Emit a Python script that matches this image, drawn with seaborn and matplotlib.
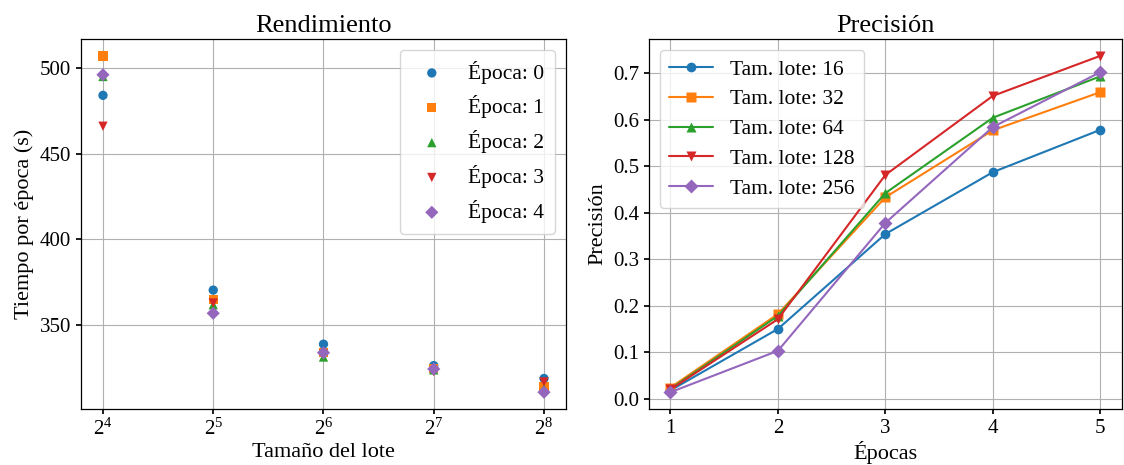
import numpy as np
import pandas as pd
import matplotlib
matplotlib.use("Agg")
import matplotlib.pyplot as plt
import seaborn as sns

# ---- data ----
batch_sizes = [16, 32, 64, 128, 256]
epoch_labels = ["Época: 0", "Época: 1", "Época: 2", "Época: 3", "Época: 4"]
time_ep0 = [484, 370.5, 339, 326.5, 319]
time_ep1 = [507, 365, 334, 325, 314]
time_ep2 = [495, 362, 331.5, 324, 313]
time_ep3 = [466, 363, 333, 323, 317]
time_ep4 = [496, 357, 334, 324.5, 311]

epochs = [1, 2, 3, 4, 5]
lote_labels = ["Tam. lote: 16", "Tam. lote: 32", "Tam. lote: 64", "Tam. lote: 128", "Tam. lote: 256"]
acc_16 = [0.018, 0.150, 0.354, 0.487, 0.578]
acc_32 = [0.024, 0.182, 0.433, 0.577, 0.659]
acc_64 = [0.021, 0.178, 0.442, 0.604, 0.693]
acc_128 = [0.020, 0.171, 0.481, 0.651, 0.737]
acc_256 = [0.014, 0.103, 0.378, 0.584, 0.702]

sns.set_theme(style="whitegrid")
plt.rcParams.update({
    "font.family": ["Liberation Serif", "DejaVu Serif"],
    "mathtext.fontset": "stix",
    "axes.edgecolor": "black",
    "axes.linewidth": 0.9,
    "grid.color": "#b0b0b0",
    "grid.linewidth": 0.8,
    "xtick.bottom": True,
    "ytick.left": True,
    "xtick.color": "black",
    "ytick.color": "black",
    "xtick.major.size": 3.5,
    "ytick.major.size": 3.5,
    "axes.labelcolor": "black",
    "text.color": "black",
})

palette = sns.color_palette("tab10")
markers = ["o", "s", "^", "v", "D"]

fig = plt.figure(figsize=(11.24, 4.65), dpi=100)
ax1 = fig.add_axes([0.072, 0.1204, 0.4316, 0.7956])
ax2 = fig.add_axes([0.5774, 0.1204, 0.4206, 0.7956])

times = [time_ep0, time_ep1, time_ep2, time_ep3, time_ep4]
for i, (lab, t) in enumerate(zip(epoch_labels, times)):
    sns.scatterplot(x=batch_sizes, y=t, ax=ax1, color=palette[i], marker=markers[i],
                    s=45, edgecolor="none", label=lab, zorder=3)
ax1.set_xscale("log", base=2)
ax1.set_xticks(batch_sizes)
ax1.set_yticks([350, 400, 450, 500])
ax1.set_title("Rendimiento", fontsize=19, pad=5)
ax1.set_xlabel("Tamaño del lote", fontsize=16, labelpad=2)
ax1.set_ylabel("Tiempo por época (s)", fontsize=16)
ax1.tick_params(labelsize=15)
leg1 = ax1.legend(loc="upper right", fontsize=15.5, frameon=True, borderpad=0.5,
                  labelspacing=0.55, handletextpad=0.7)
leg1.get_frame().set_edgecolor("#cccccc")

accs = [acc_16, acc_32, acc_64, acc_128, acc_256]
for i, (lab, a) in enumerate(zip(lote_labels, accs)):
    sns.lineplot(x=epochs, y=a, ax=ax2, color=palette[i], marker=markers[i],
                 markersize=7, markeredgecolor="none", linewidth=1.5, label=lab)
ax2.set_xticks(epochs)
ax2.set_yticks(np.arange(0, 0.71, 0.1))
ax2.set_title("Precisión", fontsize=19, pad=5)
ax2.set_xlabel("Épocas", fontsize=16, labelpad=2)
ax2.set_ylabel("Precisión", fontsize=16)
ax2.tick_params(labelsize=15)
leg2 = ax2.legend(loc="upper left", fontsize=15.5, frameon=True, borderpad=0.45,
                  labelspacing=0.45)
leg2.get_frame().set_edgecolor("#cccccc")

for ax in (ax1, ax2):
    for s in ax.spines.values():
        s.set_color("black")

fig.savefig("out.png", dpi=100)
